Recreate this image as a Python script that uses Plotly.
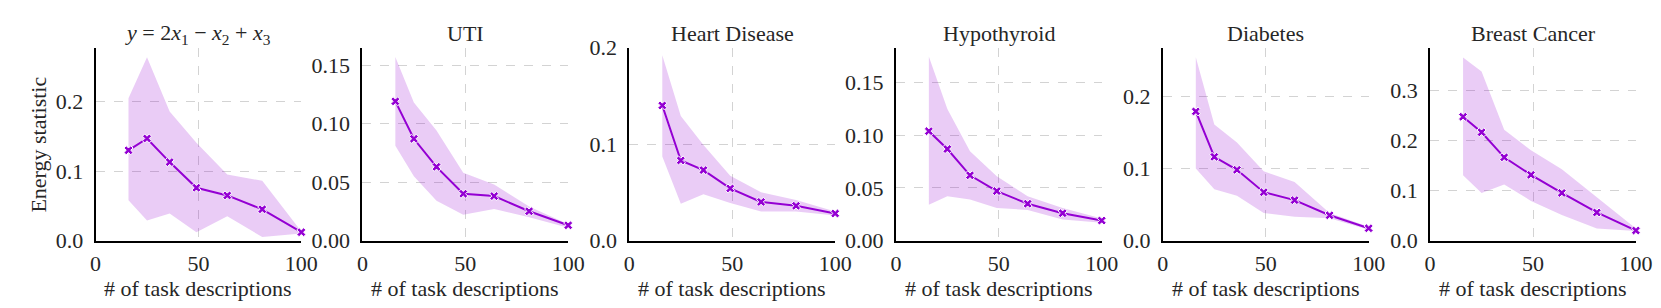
import plotly.graph_objects as go

x_vals = [16, 25, 36, 49, 64, 81, 100]

titles = ["<i>y</i> = 2<i>x</i><sub>1</sub> − <i>x</i><sub>2</sub> + <i>x</i><sub>3</sub>",
          "UTI", "Heart Disease", "Hypothyroid", "Diabetes", "Breast Cancer"]

mean_synth = [0.130, 0.147, 0.113, 0.076, 0.065, 0.045, 0.012]
upper_synth = [0.205, 0.264, 0.186, 0.141, 0.095, 0.086, 0.013]
lower_synth = [0.058, 0.029, 0.039, 0.012, 0.035, 0.005, 0.010]

mean_uti = [0.119, 0.087, 0.063, 0.040, 0.038, 0.025, 0.013]
upper_uti = [0.157, 0.118, 0.094, 0.058, 0.048, 0.029, 0.014]
lower_uti = [0.081, 0.055, 0.034, 0.022, 0.027, 0.020, 0.011]

mean_heart = [0.140, 0.083, 0.073, 0.054, 0.040, 0.036, 0.028]
upper_heart = [0.192, 0.129, 0.099, 0.067, 0.050, 0.042, 0.030]
lower_heart = [0.087, 0.038, 0.048, 0.039, 0.030, 0.030, 0.026]

mean_hypo = [0.104, 0.087, 0.062, 0.047, 0.035, 0.026, 0.019]
upper_hypo = [0.175, 0.125, 0.085, 0.061, 0.042, 0.031, 0.021]
lower_hypo = [0.034, 0.042, 0.039, 0.031, 0.029, 0.020, 0.017]

mean_diab = [0.179, 0.116, 0.098, 0.067, 0.056, 0.035, 0.017]
upper_diab = [0.254, 0.161, 0.136, 0.096, 0.081, 0.038, 0.019]
lower_diab = [0.100, 0.071, 0.062, 0.038, 0.033, 0.031, 0.015]

mean_breast = [0.247, 0.216, 0.166, 0.131, 0.095, 0.056, 0.020]
upper_breast = [0.365, 0.337, 0.221, 0.180, 0.142, 0.086, 0.024]
lower_breast = [0.130, 0.095, 0.112, 0.079, 0.051, 0.024, 0.019]

means = [mean_synth, mean_uti, mean_heart, mean_hypo, mean_diab, mean_breast]
uppers = [upper_synth, upper_uti, upper_heart, upper_hypo, upper_diab, upper_breast]
lowers = [lower_synth, lower_uti, lower_heart, lower_hypo, lower_diab, lower_breast]

y_max = [0.278, 0.165, 0.200, 0.1835, 0.2675, 0.385]
y_ticks = [[0.0, 0.1, 0.2], [0.0, 0.05, 0.10, 0.15], [0.0, 0.1, 0.2],
           [0.0, 0.05, 0.10, 0.15], [0.0, 0.1, 0.2], [0.0, 0.1, 0.2, 0.3]]
y_fmt = [".1f", ".2f", ".1f", ".2f", ".1f", ".1f"]
x_ticks = [0, 50, 100]

W, H = 1661, 308
left_px = [82.7, 353.3, 624.0, 894.3, 1165.0, 1436.0]
plot_w = 208.7
top_px, bot_px = 30, 240

LINE = "#9400D3"
BAND = "rgba(148,0,211,0.2)"
FONT = "Liberation Serif"
TXT = "#262626"
FS = 22

fig = go.Figure()
for i in range(6):
    xa = "x" if i == 0 else f"x{i+1}"
    ya = "y" if i == 0 else f"y{i+1}"
    fig.add_trace(go.Scatter(x=x_vals, y=lowers[i], mode="lines", line=dict(width=0),
                             xaxis=xa, yaxis=ya, showlegend=False, hoverinfo="skip"))
    fig.add_trace(go.Scatter(x=x_vals, y=uppers[i], mode="lines", line=dict(width=0),
                             fill="tonexty", fillcolor=BAND,
                             xaxis=xa, yaxis=ya, showlegend=False, hoverinfo="skip"))
    fig.add_trace(go.Scatter(x=x_vals, y=means[i], mode="lines+markers",
                             line=dict(color=LINE, width=2),
                             marker=dict(symbol="x", size=8, color=LINE,
                                         line=dict(color="white", width=1)),
                             cliponaxis=False,
                             xaxis=xa, yaxis=ya, showlegend=False))
    x0 = left_px[i] / W
    x1 = (left_px[i] + plot_w) / W
    axis_common = dict(showline=True, linecolor="black", linewidth=2,
                       showgrid=True, gridcolor="#d3d3d3", griddash="dash", gridwidth=1,
                       ticks="", zeroline=False,
                       tickfont=dict(family=FONT, size=FS, color=TXT))
    fig.layout["xaxis" if i == 0 else f"xaxis{i+1}"] = dict(
        domain=[x0, x1], anchor=ya, range=[0, 100], tickvals=x_ticks,
        ticklabelstandoff=2,
        **axis_common)
    fig.layout["yaxis" if i == 0 else f"yaxis{i+1}"] = dict(
        domain=[1 - bot_px / H, 1 - top_px / H], anchor=xa, range=[0, y_max[i]],
        tickvals=y_ticks[i], tickformat=y_fmt[i], ticklabelstandoff=6,
        **axis_common)
    fig.add_annotation(text=titles[i], xref="paper", yref="paper",
                       x=(x0 + x1) / 2, y=1 - 15 / H, xanchor="center", yanchor="middle",
                       showarrow=False, font=dict(family=FONT, size=FS, color=TXT))
    fig.add_annotation(text="# of task descriptions", xref="paper", yref="paper",
                       x=(x0 + x1) / 2, y=0, xanchor="center", yanchor="bottom",
                       showarrow=False, font=dict(family=FONT, size=FS, color=TXT))

fig.add_annotation(text="Energy statistic", xref="paper", yref="paper",
                   x=25 / W, y=1 - 136 / H, xanchor="center", yanchor="middle",
                   textangle=-90, showarrow=False,
                   font=dict(family=FONT, size=FS, color=TXT))

fig.update_layout(width=W, height=H, margin=dict(l=0, r=0, t=0, b=0),
                  plot_bgcolor="white", paper_bgcolor="white")
fig.write_html("out.html")
